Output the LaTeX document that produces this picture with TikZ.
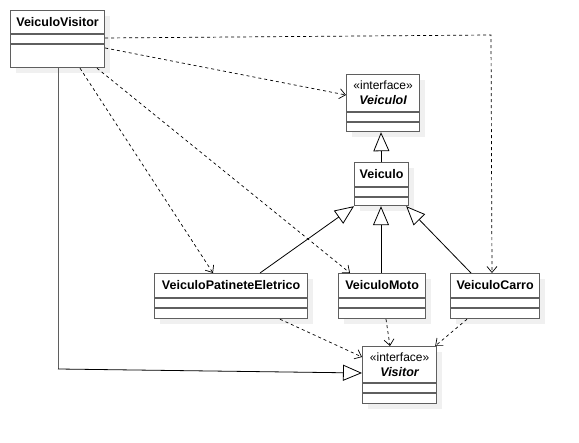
\documentclass[tikz,border=0pt]{standalone}
\usepackage{fontspec}
\setmainfont{Liberation Sans}
\usetikzlibrary{arrows.meta,calc}
\definecolor{boxline}{RGB}{95,95,95}
\definecolor{shadowc}{RGB}{240,240,240}
\tikzset{
  classbox/.style={draw=boxline, line width=1.2pt, fill=white, inner sep=0pt, anchor=north west},
  sepline/.style={draw=boxline, line width=1.2pt},
  titletext/.style={font=\fontsize{12.5}{15}\selectfont\bfseries, inner sep=0pt, align=center},
  deparrow/.style={line width=0.7pt, dash pattern=on 3pt off 3pt, -{Straight Barb[length=6pt,width=10pt,line width=0.7pt]}},
  genarrow/.style={line width=0.8pt, -{Triangle[open,length=19pt,width=16pt,fill=white,line width=0.8pt]}},
  assocline/.style={line width=0.9pt, draw=boxline}
}
\newcommand\umlbox[7]{%
  \fill[shadowc] (#2+6,#3+6) rectangle ++(#4,#5);
  \node[classbox, minimum width=#4pt, minimum height=#5pt] (#1) at (#2,#3) {};
  \draw[sepline] (#1.north west) ++(0,#6) -- ++(#4,0) ++(-#4,10) -- ++(#4,0);
}
\begin{document}
\begin{tikzpicture}[x=1pt,y=-1pt]
\useasboundingbox (0,0) rectangle (579,443);
% boxes
\umlbox{vv}{10}{10}{94}{57}{24}{}
\umlbox{vi}{346}{74}{73}{57}{38}{}
\umlbox{ve}{354}{162}{54}{43}{25}{}
\umlbox{vp}{154}{273}{153}{45}{25}{}
\umlbox{vm}{338}{273}{87}{45}{25}{}
\umlbox{vc}{450}{273}{89}{45}{25}{}
\umlbox{vis}{362}{346}{74}{57}{37}{}
% titles
\node[titletext] (tvv) at ($(vv.north)+(0,12)$) {VeiculoVisitor};
\node[font=\fontsize{12}{14}\selectfont, inner sep=0pt] (svi) at ($(vi.north)+(0,11)$) {«interface»};
\node[titletext, font=\fontsize{12.5}{15}\selectfont\bfseries\itshape] (tvi) at ($(vi.north)+(0,26)$) {VeiculoI};
\node[titletext] (tve) at ($(ve.north)+(0,12.5)$) {Veiculo};
\node[titletext] (tvp) at ($(vp.north)+(0,12.5)$) {VeiculoPatineteEletrico};
\node[titletext] (tvm) at ($(vm.north)+(0,12.5)$) {VeiculoMoto};
\node[titletext] (tvc) at ($(vc.north)+(0,12.5)$) {VeiculoCarro};
\node[font=\fontsize{12}{14}\selectfont, inner sep=0pt] (svis) at ($(vis.north)+(0,11)$) {«interface»};
\node[titletext, font=\fontsize{12.5}{15}\selectfont\bfseries\itshape] (tvis) at ($(vis.north)+(0,26)$) {Visitor};
% waypoints
\coordinate (c1) at (491,35);
\coordinate (c2) at (58,369);
% dependencies from VeiculoVisitor
\draw[deparrow] ($(vv.north east)+(0,28)$) -- (c1) -- ($(vc.north west)+(42,0)$);
\draw[deparrow] ($(vv.north east)+(0,38)$) -- ($(vi.north west)+(0,21)$);
\draw[deparrow] ($(vv.south west)+(70,0)$) -- ($(vp.north west)+(59,0)$);
\draw[deparrow] ($(vv.south west)+(87,0)$) -- ($(vm.north west)+(12,0)$);
% generalizations
\draw[genarrow] (ve.north) -- ($(vi.south west)+(35,0)$);
\draw[genarrow] ($(vp.north west)+(106,0)$) -- (ve.south west);
\draw[genarrow] ($(vm.north west)+(43,0)$) -- ($(ve.south west)+(27,0)$);
\draw[genarrow] ($(vc.north west)+(21,0)$) -- ($(ve.south east)+(-3,0)$);
% dependencies to Visitor
\draw[deparrow] ($(vp.south west)+(126,0)$) -- ($(vis.north west)+(0,11)$);
\draw[deparrow] ($(vm.south west)+(48,0)$) -- ($(vis.north west)+(28,0)$);
\draw[deparrow] ($(vc.south west)+(17,0)$) -- ($(vis.north east)+(-2,0)$);
% realization-like solid line
\draw[assocline] ($(vv.south west)+(48,0)$) -- (c2);
\draw[genarrow, draw=black] (c2) -- ($(vis.north west)+(0,27)$);
\end{tikzpicture}
\end{document}
